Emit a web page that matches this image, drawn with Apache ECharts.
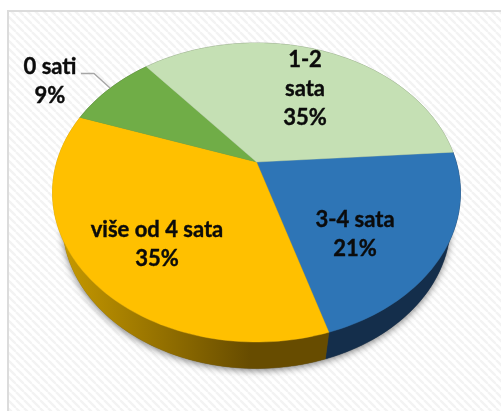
<!DOCTYPE html>
<html>
<head>
<meta charset="utf-8">
<style>html,body{margin:0;padding:0;background:#fff}#c{width:501px;height:411px}</style>
<script src="https://cdn.jsdelivr.net/npm/echarts@6/dist/echarts.min.js"></script>
</head>
<body>
<div id="c"></div>
<script>
// data, clockwise from the blue slice (shares; they round to the printed labels)
const categories = ['3-4 sata', 'više od 4 sata', '0 sati', '1-2 sata'];
const values = [21.4, 35.1, 8.6, 34.9];
const percentText = ['21%', '35%', '9%', '35%'];
const labelLines = [['3-4 sata', '21%'], ['više od 4 sata', '35%'], ['0 sati', '9%'], ['1-2', 'sata', '35%']];
const topColors = ['#2E75B6', '#FFC000', '#70AD47', '#C5E0B4'];
const wallColors = ['#142E4B', null, '#3E6027', '#6F7D64'];

// perspective model of the tilted disc
const START_DEG = -4, K = 0.204, A = 199.7, B = 143.3;
const TOP_FACE = {cx: 256.5, cy: 162, sx: 1, sy: 1};
const BOTTOM_FACE = {cx: 256.5, cy: 193.3, sx: 0.951, sy: 0.973};

function proj(deg, f) {
  const t = deg * Math.PI / 180, w = 1 - K * Math.sin(t);
  return [f.cx + f.sx * A * Math.cos(t) / w, f.cy + f.sy * B * Math.sin(t) / w];
}
function arc(a0, a1, f) {
  const n = Math.max(2, Math.ceil(Math.abs(a1 - a0) / 1.5)), pts = [];
  for (let i = 0; i <= n; i++) pts.push(proj(a0 + (a1 - a0) * i / n, f));
  return pts;
}
const total = values.reduce((a, b) => a + b, 0);
function range(i) {
  let sum = 0;
  for (let j = 0; j < i; j++) sum += values[j];
  return [START_DEG + sum / total * 360, START_DEG + (sum + values[i]) / total * 360];
}
const yellowWall = {
  type: 'linear', x: 60, y: 0, x2: 250, y2: 0, global: true,
  colorStops: [{offset: 0, color: '#C79A00'}, {offset: 0.45, color: '#9C7700'}, {offset: 1, color: '#674C00'}]
};

const pat = document.createElement('canvas');
pat.width = pat.height = 8;
(function () {
  const g = pat.getContext('2d');
  g.fillStyle = '#ffffff'; g.fillRect(0, 0, 8, 8);
  g.strokeStyle = '#f3f3f3'; g.lineWidth = 2.4;
  [-8, 0, 8].forEach(o => { g.beginPath(); g.moveTo(o, 0); g.lineTo(o + 8, 8); g.stroke(); });
})();

const font = '700 22px Lato, "Open Sans", sans-serif';
const labelCenters = [[355, 220], [157, 230], [50, 67], [305, 60]];
const LINE_H = 29;

function labelItems() {
  const items = [];
  labelLines.forEach((lines, i) => {
    lines.forEach((t, j) => items.push({
      type: 'text', z2: 10,
      style: {text: t, x: labelCenters[i][0], y: labelCenters[i][1] + j * LINE_H,
        align: 'center', verticalAlign: 'middle', font: font, fill: '#0b0b0b',
        stroke: '#0b0b0b', lineWidth: 0.4}
    }));
  });
  return items;
}

const chart = echarts.init(document.getElementById('c'), null, {renderer: 'canvas'});
chart.setOption({
  animation: false,
  backgroundColor: '#ffffff',
  graphic: [{
    type: 'rect', z: -10, silent: true,
    shape: {x: 8, y: 11, width: 520, height: 430},
    style: {fill: {image: pat, repeat: 'repeat'}, stroke: '#dcdcdc', lineWidth: 2}
  }],
  series: [
    { // soft shadow under the whole disc
      type: 'custom', coordinateSystem: 'none', silent: true, z: 1,
      data: [total],
      renderItem: function () {
        const pts = arc(0, 360, BOTTOM_FACE);
        return {type: 'polygon', shape: {points: pts},
          style: {fill: '#555', shadowBlur: 7, shadowColor: 'rgba(0,0,0,0.5)', shadowOffsetX: 0, shadowOffsetY: 2}};
      }
    },
    { // side walls
      type: 'custom', coordinateSystem: 'none', silent: true, z: 2,
      data: values,
      renderItem: function (p) {
        const r = range(p.dataIndex);
        const pts = arc(r[0], r[1], TOP_FACE).concat(arc(r[1], r[0], BOTTOM_FACE));
        const c = wallColors[p.dataIndex] || yellowWall;
        return {type: 'polygon', shape: {points: pts}, style: {fill: c, stroke: c, lineWidth: 0.5}};
      }
    },
    { // top faces
      type: 'custom', coordinateSystem: 'none', silent: true, z: 3,
      data: values,
      encode: {itemName: 0},
      renderItem: function (p) {
        const r = range(p.dataIndex);
        const pts = [[TOP_FACE.cx, TOP_FACE.cy]].concat(arc(r[0], r[1], TOP_FACE));
        const c = topColors[p.dataIndex];
        return {type: 'polygon', shape: {points: pts}, style: {fill: c, stroke: c, lineWidth: 0.4}};
      }
    },
    { // text labels and the leader line
      type: 'custom', coordinateSystem: 'none', silent: true, z: 4,
      data: [0],
      renderItem: function () {
        return {type: 'group', children: labelItems().concat([{
          type: 'polyline',
          shape: {points: [[81, 73.5], [94, 73.5], [110, 88]]},
          style: {fill: 'none', stroke: '#a6a6a6', lineWidth: 1.4}
        }])};
      }
    }
  ]
});
</script>
</body>
</html>
